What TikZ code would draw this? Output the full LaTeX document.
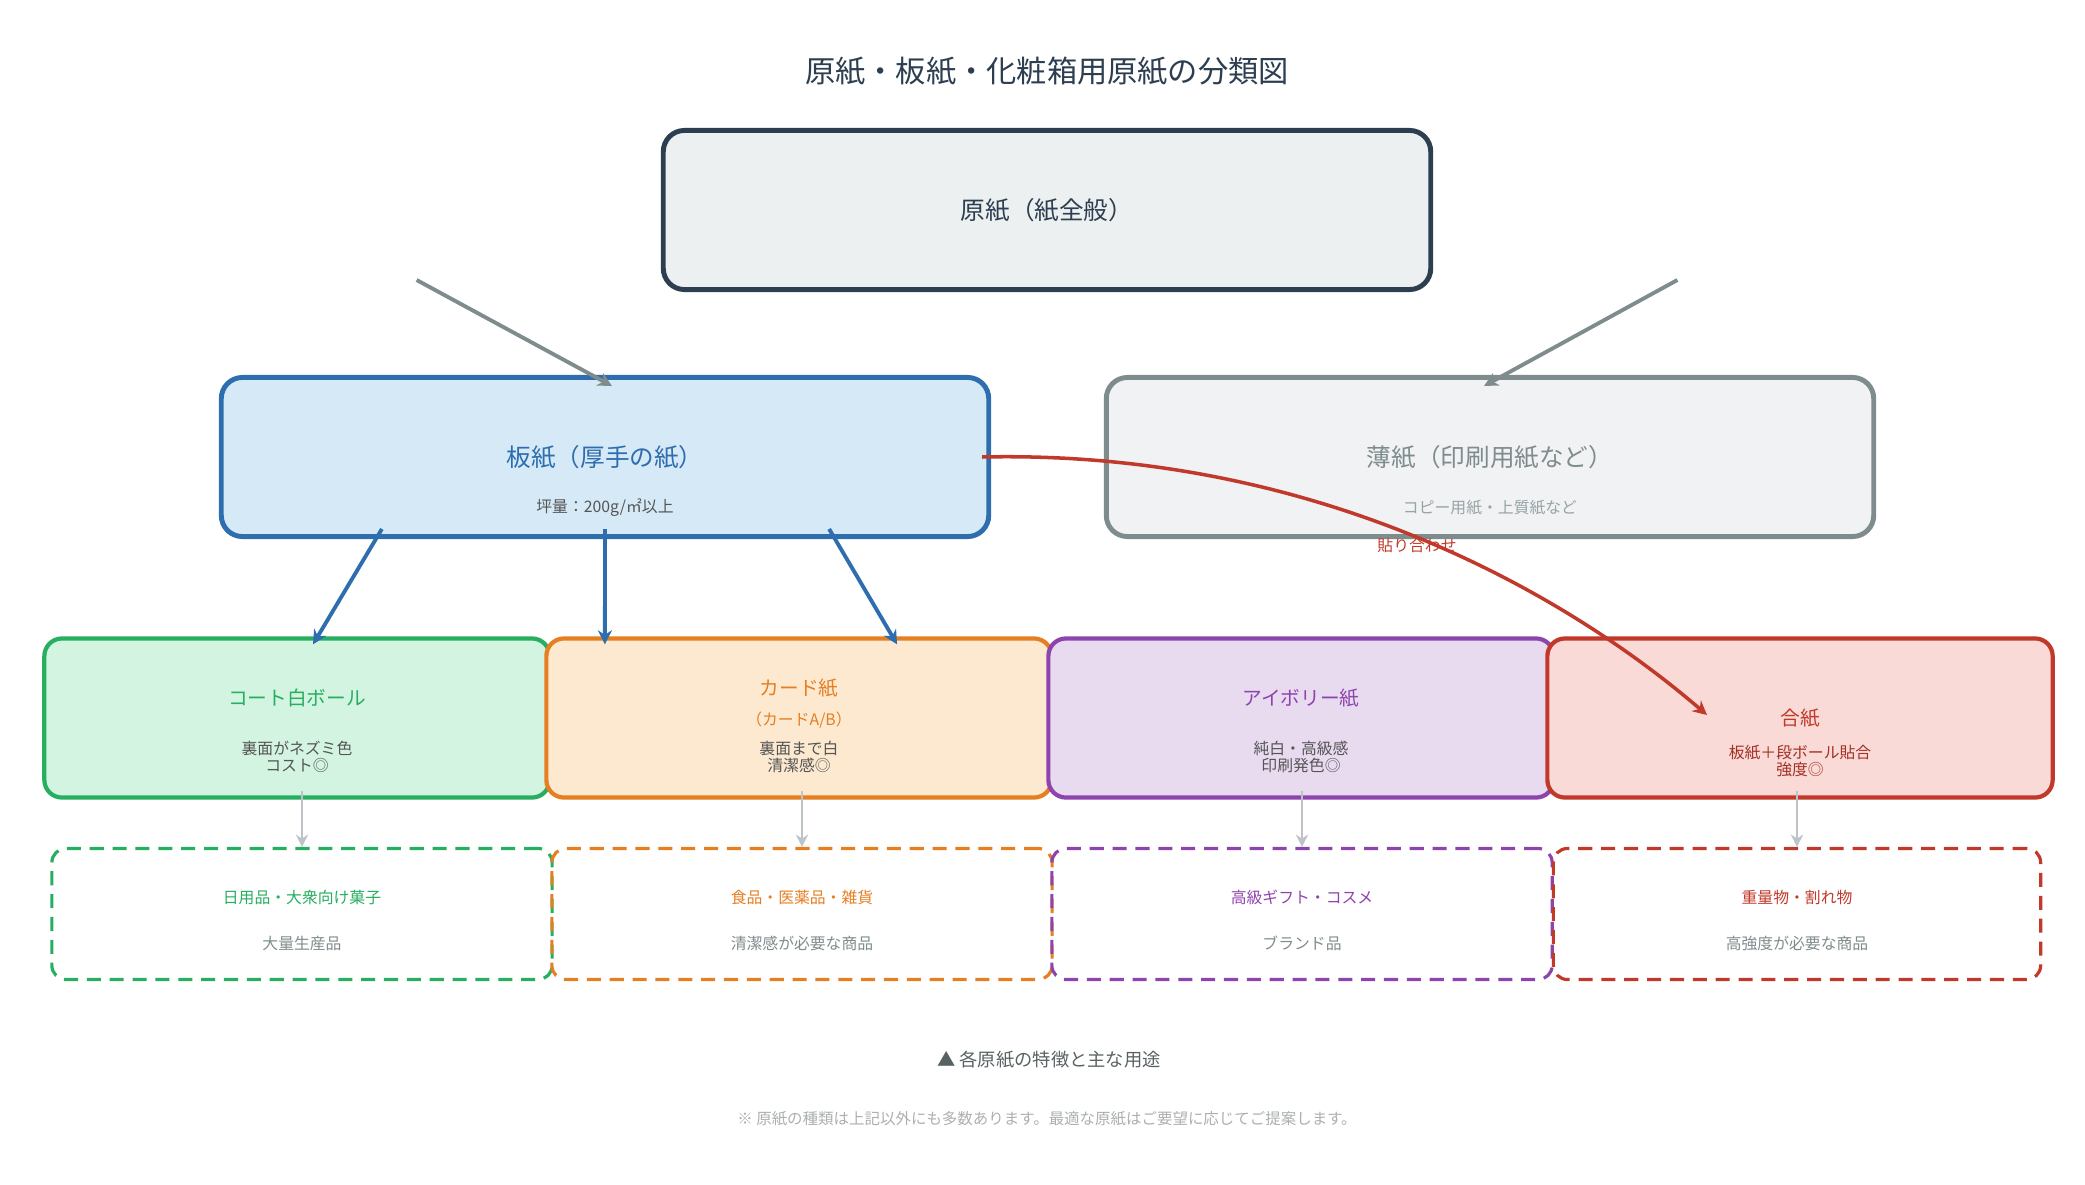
\documentclass[tikz,border=0pt]{standalone}
\usepackage{fontspec}
\setmainfont{Noto Sans CJK JP}
\usetikzlibrary{arrows.meta,positioning,calc}
\definecolor{cdark}{HTML}{2C3E50}
\definecolor{ctopfill}{HTML}{ECF0F1}
\definecolor{cblue}{HTML}{2E6DAE}
\definecolor{cbluefill}{HTML}{D6E9F7}
\definecolor{cgray}{HTML}{7F8C8D}
\definecolor{cgrayfill}{HTML}{F0F2F4}
\definecolor{cgreen}{HTML}{27AE60}
\definecolor{cgreenfill}{HTML}{D4F4E2}
\definecolor{corange}{HTML}{E67E22}
\definecolor{corangefill}{HTML}{FCE9D0}
\definecolor{cpurple}{HTML}{8E44AD}
\definecolor{cpurplefill}{HTML}{E8DBEF}
\definecolor{cred}{HTML}{C0392B}
\definecolor{credfill}{HTML}{F9DAD7}
\definecolor{clight}{HTML}{BDC3C7}
\definecolor{ctext}{HTML}{555555}
\tikzset{
  box/.style={draw, rounded corners=6pt, minimum width=7.67cm, minimum height=1.59cm, line width=1.4pt},
  catbox/.style={draw, rounded corners=5pt, minimum width=5.05cm, minimum height=1.59cm, line width=1.2pt},
  usebox/.style={draw, dashed, dash pattern=on 4pt off 2.5pt, rounded corners=4pt, minimum width=5cm, minimum height=1.31cm, line width=0.9pt},
  garrow/.style={-{Stealth[length=4pt,width=4pt]}, line width=1.1pt, cgray},
  barrow/.style={-{Stealth[length=4pt,width=4pt]}, line width=1.1pt, cblue},
  larrow/.style={-{Stealth[length=3.5pt,width=3.5pt]}, line width=0.8pt, clight},
  big/.style={font=\fontsize{7}{8}\selectfont},
  mid/.style={font=\fontsize{5.6}{6.5}\selectfont},
  small/.style={font=\fontsize{4.5}{5}\selectfont, align=center},
}
\begin{document}
\begin{tikzpicture}[x=0.01cm, y=-0.01cm]
\useasboundingbox (0,0) rectangle (2085,1185);
% title
\node[font=\fontsize{8.6}{10}\selectfont, text=cdark] (title) at (1047,71) {原紙・板紙・化粧箱用原紙の分類図};
% level 1 and 2
\node[box, draw=cdark, fill=ctopfill] (top) at (1047,210) {};
\node[big, text=cdark] at (top) {原紙（紙全般）};
\node[box, draw=cblue, fill=cbluefill] (board) at (605,457) {};
\node[big, text=cblue] at (605,457) {板紙（厚手の紙）};
\node[small, text=ctext] at (605,508) {坪量：200g/㎡以上};
\node[box, draw=cgray, fill=cgrayfill] (thin) at (1490,457) {};
\node[big, text=cgray] at (1490,457) {薄紙（印刷用紙など）};
\node[small, text=cgray!80] at (1490,508) {コピー用紙・上質紙など};
% level 3
\node[catbox, draw=cgreen, fill=cgreenfill] (coat) at (297,718) {};
\node[catbox, draw=corange, fill=corangefill] (card) at (799,718) {};
\node[catbox, draw=cpurple, fill=cpurplefill] (ivory) at (1301,718) {};
\node[catbox, draw=cred, fill=credfill] (lined) at (1800,718) {};
\node[mid, text=cgreen] at (297,698) {コート白ボール};
\node[small, text=ctext] at (297,757) {裏面がネズミ色\\コスト◎};
\node[mid, text=corange] at (799,688) {カード紙};
\node[small, text=corange] at (799,720) {（カードA/B）};
\node[small, text=ctext] at (799,757) {裏面まで白\\清潔感◎};
\node[mid, text=cpurple] at (1301,698) {アイボリー紙};
\node[small, text=ctext] at (1301,757) {純白・高級感\\印刷発色◎};
\node[mid, text=cred] at (1800,718) {合紙};
\node[small, text=cred!85!black] at (1800,761) {板紙＋段ボール貼合\\強度◎};
% level 4
\node[usebox, draw=cgreen] (use1) at (302,914) {};
\node[usebox, draw=corange] (use2) at (802,914) {};
\node[usebox, draw=cpurple] (use3) at (1302,914) {};
\node[usebox, draw=cred, minimum width=4.87cm] (use4) at (1797,914) {};
\node[small, text=cgreen] at (302,897) {日用品・大衆向け菓子};
\node[small, text=cgray] at (302,943) {大量生産品};
\node[small, text=corange] at (802,897) {食品・医薬品・雑貨};
\node[small, text=cgray] at (802,943) {清潔感が必要な商品};
\node[small, text=cpurple] at (1302,897) {高級ギフト・コスメ};
\node[small, text=cgray] at (1302,943) {ブランド品};
\node[small, text=cred] at (1797,897) {重量物・割れ物};
\node[small, text=cgray] at (1797,943) {高強度が必要な商品};
% connectors
\draw[garrow] ([xshift=-6.3cm, yshift=0.12cm]top.south) -- ([xshift=0.07cm, yshift=-0.11cm]board.north);
\draw[garrow] ([xshift=6.3cm, yshift=0.12cm]top.south) -- ([xshift=-0.06cm, yshift=-0.11cm]thin.north);
\draw[barrow] ([xshift=-2.23cm, yshift=0.1cm]board.south) -- ([xshift=0.16cm, yshift=-0.08cm]coat.north);
\draw[barrow] ([yshift=0.1cm]board.south) -- ([xshift=-1.94cm, yshift=-0.08cm]card.north);
\draw[barrow] ([xshift=2.24cm, yshift=0.1cm]board.south) -- ([xshift=0.98cm, yshift=-0.08cm]card.north);
\foreach \a/\b in {coat/use1, card/use2, ivory/use3, lined/use4}
  \draw[larrow] ([yshift=0.09cm]\a.south -| \b.north) -- (\b.north);
\coordinate (glue) at (1707,715);
\draw[-{Stealth[length=4pt,width=4pt]}, line width=1pt, cred] ([xshift=-0.09cm]board.east) .. controls (1300,450) and (1550,580) .. (glue);
\node[small, text=cred] at (1417,545) {貼り合わせ};
% footer
\node[font=\fontsize{5.2}{6}\selectfont, text=cgray!70!black] (legend) at (1049,1060) {▲ 各原紙の特徴と主な用途};
\node[font=\fontsize{4.4}{5}\selectfont, text=clight!70!gray] (note) at (1047,1119) {※ 原紙の種類は上記以外にも多数あります。最適な原紙はご要望に応じてご提案します。};
\end{tikzpicture}
\end{document}
